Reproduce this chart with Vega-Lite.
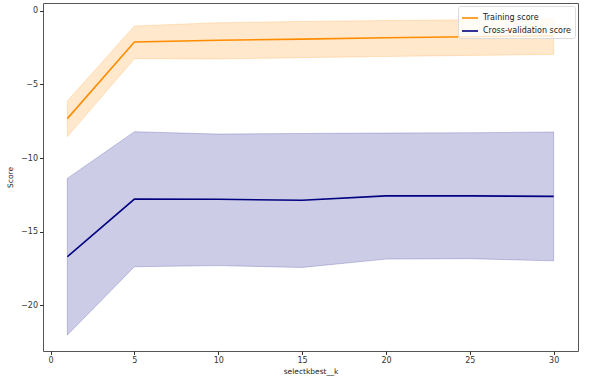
{
  "$schema": "https://vega.github.io/schema/vega-lite/v6.json",
  "width": 535,
  "height": 348,
  "autosize": {"type": "none"},
  "padding": {"left": 43, "top": 3, "right": 11, "bottom": 33},
  "background": "white",
  "config": {
    "font": "DejaVu Sans",
    "view": {"stroke": "#555555", "strokeWidth": 1},
    "axis": {
      "grid": false,
      "domain": false,
      "tickColor": "#333333",
      "tickSize": 3.5,
      "labelFontSize": 8,
      "labelColor": "#333333",
      "titleFontSize": 7.5,
      "titleFontWeight": "normal",
      "titleColor": "#222222",
      "labelPadding": 2
    }
  },
  "data": {
    "values": [
      {"series": "Training score", "k": 1, "mean": -7.32, "lo": -8.55, "hi": -6.13},
      {"series": "Training score", "k": 5, "mean": -2.12, "lo": -3.25, "hi": -1.03},
      {"series": "Training score", "k": 10, "mean": -2.0, "lo": -3.27, "hi": -0.81},
      {"series": "Training score", "k": 15, "mean": -1.92, "lo": -3.18, "hi": -0.72},
      {"series": "Training score", "k": 20, "mean": -1.83, "lo": -3.1, "hi": -0.66},
      {"series": "Training score", "k": 25, "mean": -1.76, "lo": -3.03, "hi": -0.61},
      {"series": "Training score", "k": 30, "mean": -1.69, "lo": -2.96, "hi": -0.56},
      {"series": "Cross-validation score", "k": 1, "mean": -16.7, "lo": -22.02, "hi": -11.38},
      {"series": "Cross-validation score", "k": 5, "mean": -12.79, "lo": -17.38, "hi": -8.21},
      {"series": "Cross-validation score", "k": 10, "mean": -12.8, "lo": -17.3, "hi": -8.37},
      {"series": "Cross-validation score", "k": 15, "mean": -12.86, "lo": -17.43, "hi": -8.33},
      {"series": "Cross-validation score", "k": 20, "mean": -12.57, "lo": -16.86, "hi": -8.3},
      {"series": "Cross-validation score", "k": 25, "mean": -12.57, "lo": -16.83, "hi": -8.28},
      {"series": "Cross-validation score", "k": 30, "mean": -12.6, "lo": -16.98, "hi": -8.23}
    ]
  },
  "encoding": {
    "x": {
      "field": "k",
      "type": "quantitative",
      "title": "selectkbest__k",
      "scale": {"domain": [-0.45, 31.45], "nice": false, "zero": false},
      "axis": {"values": [0, 5, 10, 15, 20, 25, 30], "titlePadding": 3}
    }
  },
  "layer": [
    {
      "mark": {"type": "area", "fillOpacity": 0.2, "strokeOpacity": 0.2, "strokeWidth": 1, "interpolate": "linear"},
      "encoding": {
        "y": {
          "field": "lo",
          "type": "quantitative",
          "title": "Score",
          "scale": {"domain": [-23.1, 0.53], "nice": false, "zero": false},
          "axis": {"values": [0, -5, -10, -15, -20], "titlePadding": 6}
        },
        "y2": {"field": "hi"},
        "fill": {"field": "series", "type": "nominal", "legend": null, "scale": {"domain": ["Training score", "Cross-validation score"], "range": ["#ff8c00", "#000080"]}},
        "stroke": {"field": "series", "type": "nominal", "legend": null, "scale": {"domain": ["Training score", "Cross-validation score"], "range": ["#ff8c00", "#000080"]}}
      }
    },
    {
      "mark": {"type": "line", "strokeWidth": 1.6},
      "encoding": {
        "y": {"field": "mean", "type": "quantitative"},
        "color": {
          "field": "series",
          "type": "nominal",
          "scale": {"domain": ["Training score", "Cross-validation score"], "range": ["#ff8c00", "#000080"]},
          "legend": {
            "title": null,
            "orient": "top-right",
            "offset": 3,
            "symbolType": "stroke",
            "symbolSize": 256,
            "symbolStrokeWidth": 1.6,
            "labelFontSize": 8,
            "labelColor": "#222222",
            "labelOffset": 4,
            "fillColor": "rgba(255,255,255,0.8)",
            "strokeColor": "#dddddd",
            "cornerRadius": 2,
            "padding": 3,
            "rowPadding": -5
          }
        }
      }
    }
  ],
  "resolve": {"scale": {"color": "independent", "fill": "independent", "stroke": "independent"}}
}
